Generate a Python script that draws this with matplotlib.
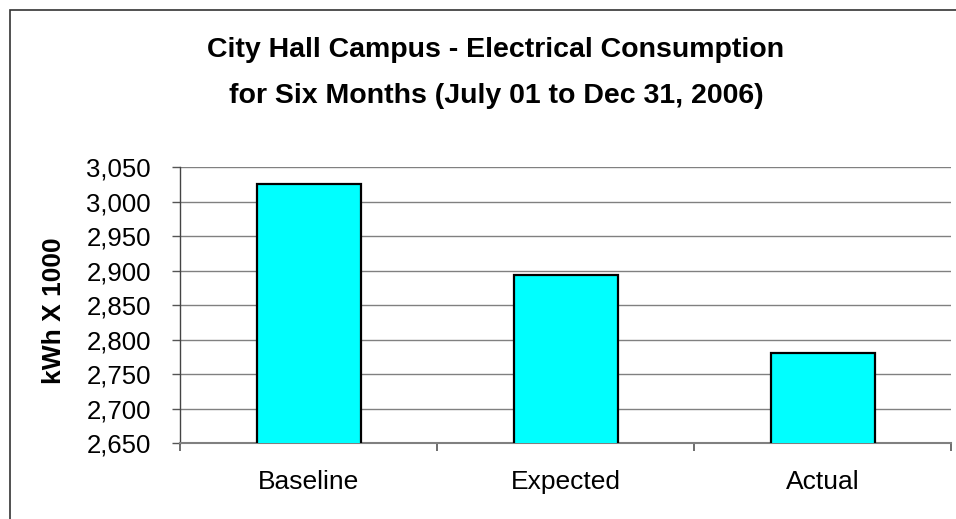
import matplotlib
matplotlib.use("Agg")
import matplotlib.pyplot as plt
from matplotlib.patches import Rectangle
from matplotlib.ticker import FuncFormatter, FixedLocator

categories = ["Baseline", "Expected", "Actual"]
values = [3026, 2894, 2781]
y_ticks = [2650, 2700, 2750, 2800, 2850, 2900, 2950, 3000, 3050]
title_lines = ["City Hall Campus - Electrical Consumption",
               "for Six Months (July 01 to Dec 31, 2006)"]
ylabel = "kWh X 1000"

plt.rcParams['font.family'] = ['Liberation Sans', 'DejaVu Sans']

W, H = 956, 519
fig = plt.figure(figsize=(W / 100, H / 100), dpi=100)
fig.patch.set_facecolor("white")
# outer chart border (left/top visible)
fig.patches.append(Rectangle((10/W, -0.1), 1.2, (H-10)/H + 0.1,
                             transform=fig.transFigure, fill=False,
                             edgecolor="#333333", linewidth=1.2))

ax = fig.add_axes([180/W, (H-443.3)/H, 771.5/W, (443.3-167.3)/H])
x = list(range(len(categories)))
ax.bar(x, values, width=0.405, color="#00FFFF", edgecolor="black",
       linewidth=1.6, zorder=3)
ax.set_xlim(-0.5, len(categories) - 0.5)
ax.set_ylim(y_ticks[0], y_ticks[-1])
ax.yaxis.set_major_locator(FixedLocator(y_ticks))
ax.yaxis.set_major_formatter(FuncFormatter(lambda v, p: f"{int(v):,}"))
ax.grid(axis="y", color="#808080", linewidth=1.0, zorder=0)
ax.set_axisbelow(True)

ax.set_xticks(x)
ax.set_xticklabels(categories)
ax.set_xticks([i - 0.5 for i in range(len(categories) + 1)], minor=True)
ax.tick_params(axis="x", which="major", length=0, pad=19, labelsize=19)
ax.tick_params(axis="x", which="minor", length=6, width=1.2, color="#555555", direction="out")
ax.tick_params(axis="y", length=6, width=1.0, color="#555555", direction="out",
               labelsize=18.5, pad=15)

for s in ["top", "right"]:
    ax.spines[s].set_visible(False)
ax.spines["left"].set_color("#444444")
ax.spines["left"].set_linewidth(1.0)
ax.spines["bottom"].set_color("#808080")
ax.spines["bottom"].set_linewidth(1.5)

fig.text(54/W, 1 - 311/H, ylabel, rotation=90, ha="center", va="center",
         fontsize=19, fontweight="bold")

for line, base_y in zip(title_lines, [56.7, 103.3]):
    fig.text(496/W, 1 - base_y/H, line, ha="center", va="baseline",
             fontsize=20.5, fontweight="bold")

fig.savefig("out.png", dpi=100, facecolor="white")
